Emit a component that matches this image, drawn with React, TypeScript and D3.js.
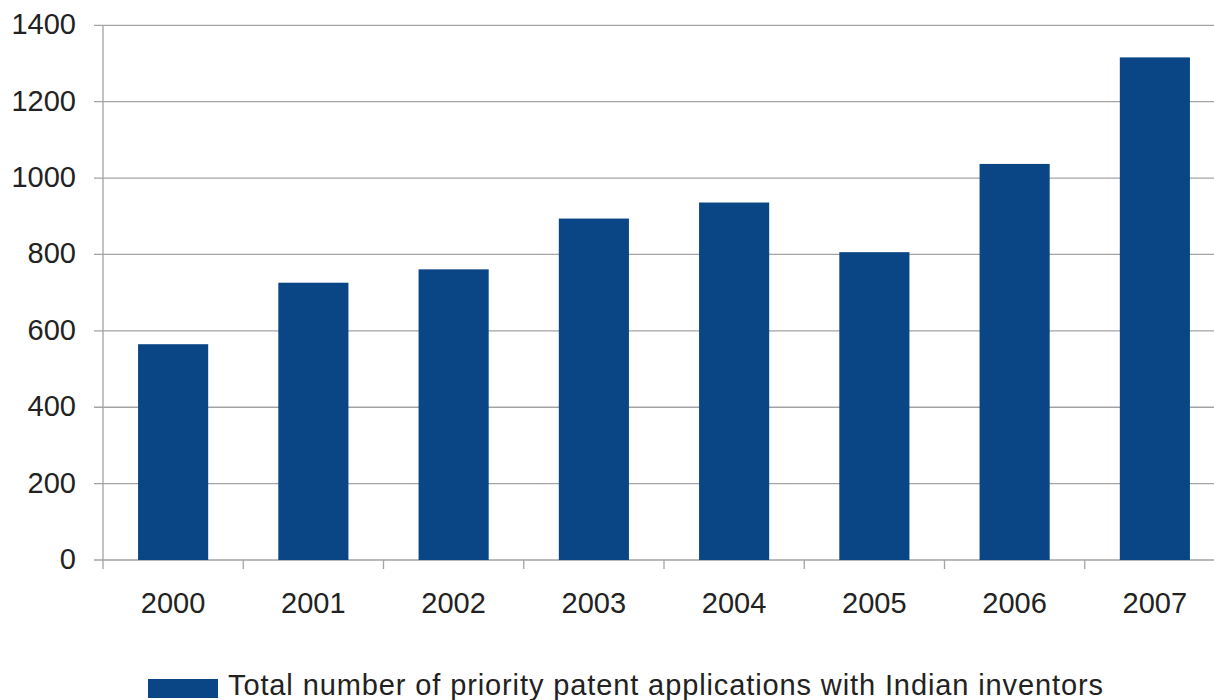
import React from "react";
import * as d3 from "d3";

const categories = ["2000", "2001", "2002", "2003", "2004", "2005", "2006", "2007"];
const values = [565, 726, 761, 894, 936, 806, 1037, 1316];
const yTicks = [0, 200, 400, 600, 800, 1000, 1200, 1400];
const seriesName = "Total number of priority patent applications with Indian inventors";

const W = 1214;
const H = 700;
const left = 103;
const right = 1225;
const top = 25.3;
const bottom = 560;
const barColor = "#0a4686";
const font = "'Liberation Sans', Arial, sans-serif";

export default function App() {
  const x = d3.scaleBand<string>().domain(categories).range([left, right]).paddingInner(0.5).paddingOuter(0.25);
  const y = d3.scaleLinear().domain([0, 1400]).range([bottom, top]);
  const step = x.step();
  const boundaries = categories.map((_, i) => left + i * step);

  return (
    <svg width={W} height={H} style={{ position: "absolute", left: 0, top: 0, background: "#fff" }}>
      <rect x={0} y={0} width={W} height={H} fill="#fff" />
      {yTicks.map((t) => (
        <line key={"g" + t} x1={left - 9} x2={W} y1={y(t)} y2={y(t)} stroke="#a3a3a3" strokeWidth={1.3} />
      ))}
      <line x1={left} x2={left} y1={top} y2={bottom} stroke="#a3a3a3" strokeWidth={1.3} />
      {boundaries.map((b, i) => (
        <line key={"xt" + i} x1={b} x2={b} y1={bottom} y2={bottom + 9} stroke="#a3a3a3" strokeWidth={1.3} />
      ))}
      {categories.map((c, i) => (
        <rect key={c} x={x(c)} y={y(values[i])} width={x.bandwidth()} height={bottom - y(values[i])} fill={barColor} />
      ))}
      {yTicks.map((t) => (
        <text key={"yl" + t} x={76} y={y(t) + 9} textAnchor="end" fontFamily={font} fontSize={29} fill="#222">
          {t}
        </text>
      ))}
      {categories.map((c) => (
        <text key={"xl" + c} x={(x(c) as number) + x.bandwidth() / 2} y={613} textAnchor="middle" fontFamily={font} fontSize={29} fill="#222">
          {c}
        </text>
      ))}
      <rect x={148} y={679} width={70} height={19} fill={barColor} />
      <text x={228} y={695} fontFamily={font} fontSize={29} fill="#222" textLength={875} lengthAdjust="spacing">
        {seriesName}
      </text>
    </svg>
  );
}
